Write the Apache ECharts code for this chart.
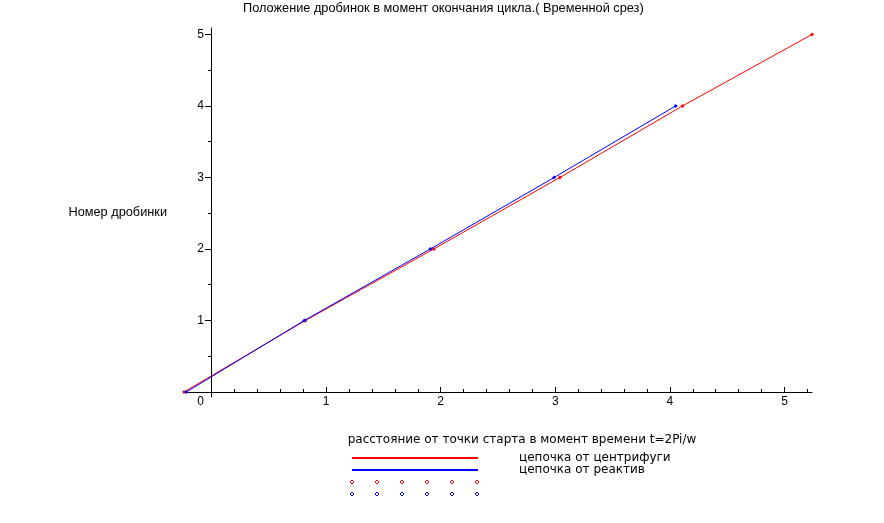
<!DOCTYPE html>
<html>
<head>
<meta charset="utf-8">
<script src="https://cdn.jsdelivr.net/npm/echarts@6/dist/echarts.min.js"></script>
<style>
  html, body { margin: 0; padding: 0; background: #fff; }
  #chart { width: 884px; height: 523px; }
</style>
</head>
<body>
<div id="chart"></div>
<script>
var chart = echarts.init(document.getElementById('chart'));

// positions of shots (x = distance, y = shot number)
var centrifugeX = [-0.24, 0.82, 1.94, 3.04, 4.11, 5.24];
var centrifugeY = [0, 1, 2, 3, 4, 5];
var reactiveX = [-0.22, 0.81, 1.91, 2.99, 4.05];
var reactiveY = [0, 1, 2, 3, 4];

var majorTicks = [0, 1, 2, 3, 4, 5];
var yLabels = [1, 2, 3, 4, 5];
var xMinorTicks = [0.2, 0.4, 0.6, 0.8, 1.2, 1.4, 1.6, 1.8, 2.2, 2.4, 2.6, 2.8, 3.2, 3.4, 3.6, 3.8, 4.2, 4.4, 4.6, 4.8, 5.2];
var yMinorTicks = [0.5, 1.5, 2.5, 3.5, 4.5];

var seriesNames = ['цепочка от центрифуги', 'цепочка от реактив'];

function pairs(xs, ys) {
    var out = [];
    for (var i = 0; i < xs.length; i++) out.push([xs[i], ys[i]]);
    return out;
}

var font = 'Liberation Sans';
var wide = 'DejaVu Sans';

// axes cross at (0,0) inside the grid; shift the axis lines there
var xOff = -5;   // 0.07 units of y
var yOff = -27;  // 0.24 units of x

var option = {
    animation: false,
    backgroundColor: '#fff',
    title: {
        text: 'Положение дробинок в момент окончания цикла.( Временной срез)',
        left: 238,
        top: -3,
        textStyle: { fontFamily: font, fontSize: 12.75, fontWeight: 'normal', color: '#000' }
    },
    legend: {
        orient: 'vertical',
        left: 352,
        top: 452,
        padding: 0,
        itemWidth: 126,
        itemHeight: 2,
        itemGap: 0,
        icon: 'rect',
        data: seriesNames,
        textStyle: { fontFamily: wide, fontSize: 12, color: '#000', padding: [0, 0, 0, 36], lineHeight: 11 }
    },
    grid: { left: 184, right: 72, top: 28, bottom: 126 },
    xAxis: [{
        type: 'value',
        min: -0.24,
        max: 5.24,
        offset: xOff,
        name: 'расстояние от точки старта в момент времени t=2Pi/w',
        nameLocation: 'middle',
        nameGap: 42,
        nameTextStyle: { fontFamily: wide, fontSize: 12, color: '#000', padding: [0, 0, 0, 48] },
        splitLine: { show: false },
        axisLine: { onZero: false, lineStyle: { color: '#000', width: 1 } },
        axisTick: { show: true, inside: true, length: 5, customValues: majorTicks, lineStyle: { color: '#000' } },
        axisLabel: {
            customValues: majorTicks,
            fontFamily: font, fontSize: 12, color: '#000', margin: 4,
            formatter: function (v) { return v === 0 ? '{z|0}' : String(v); },
            rich: { z: { fontFamily: font, fontSize: 12, color: '#000', padding: [0, 22, 0, 0] } }
        }
    }, {
        type: 'value',
        min: -0.24,
        max: 5.24,
        position: 'bottom',
        offset: xOff,
        splitLine: { show: false },
        axisLine: { show: false, onZero: false },
        axisTick: { show: true, inside: true, length: 3, customValues: xMinorTicks, lineStyle: { color: '#000' } },
        axisLabel: { show: false }
    }],
    yAxis: [{
        type: 'value',
        min: -0.07,
        max: 5.09,
        offset: yOff,
        name: 'Номер дробинки',
        nameLocation: 'middle',
        nameRotate: 0,
        nameGap: 44,
        nameTextStyle: { fontFamily: font, fontSize: 12.75, color: '#000', align: 'right' },
        splitLine: { show: false },
        axisLine: { onZero: false, lineStyle: { color: '#000', width: 1 } },
        axisTick: { show: true, length: 6, customValues: majorTicks, lineStyle: { color: '#000' } },
        axisLabel: {
            customValues: yLabels,
            fontFamily: font, fontSize: 12, color: '#000', margin: 7
        }
    }, {
        type: 'value',
        min: -0.07,
        max: 5.09,
        position: 'left',
        offset: yOff,
        splitLine: { show: false },
        axisLine: { show: false, onZero: false },
        axisTick: { show: true, length: 3, customValues: yMinorTicks, lineStyle: { color: '#000' } },
        axisLabel: { show: false }
    }],
    graphic: [],
    series: [{
        name: seriesNames[0],
        type: 'line',
        data: pairs(centrifugeX, centrifugeY),
        color: '#ff0000',
        lineStyle: { color: '#ff0000', width: 1 },
        symbol: 'diamond',
        symbolSize: 4,
        itemStyle: { color: '#ff0000' },
        z: 3
    }, {
        name: seriesNames[1],
        type: 'line',
        data: pairs(reactiveX, reactiveY),
        color: '#0000ff',
        lineStyle: { color: '#0000ff', width: 1 },
        symbol: 'diamond',
        symbolSize: 4,
        itemStyle: { color: '#0000ff' },
        z: 4
    }]
};

// legend rows of point samples (red, blue)
var dotX = [352, 377, 402, 427, 452, 477];
dotX.forEach(function (x) {
    option.graphic.push({ type: 'polygon', shape: { points: [[x, 480], [x + 2, 482], [x, 484], [x - 2, 482]] }, style: { fill: 'none', stroke: '#ff0000', lineWidth: 1 } });
    option.graphic.push({ type: 'polygon', shape: { points: [[x, 492], [x + 2, 494], [x, 496], [x - 2, 494]] }, style: { fill: 'none', stroke: '#0000ff', lineWidth: 1 } });
});

chart.setOption(option);
</script>
</body>
</html>
